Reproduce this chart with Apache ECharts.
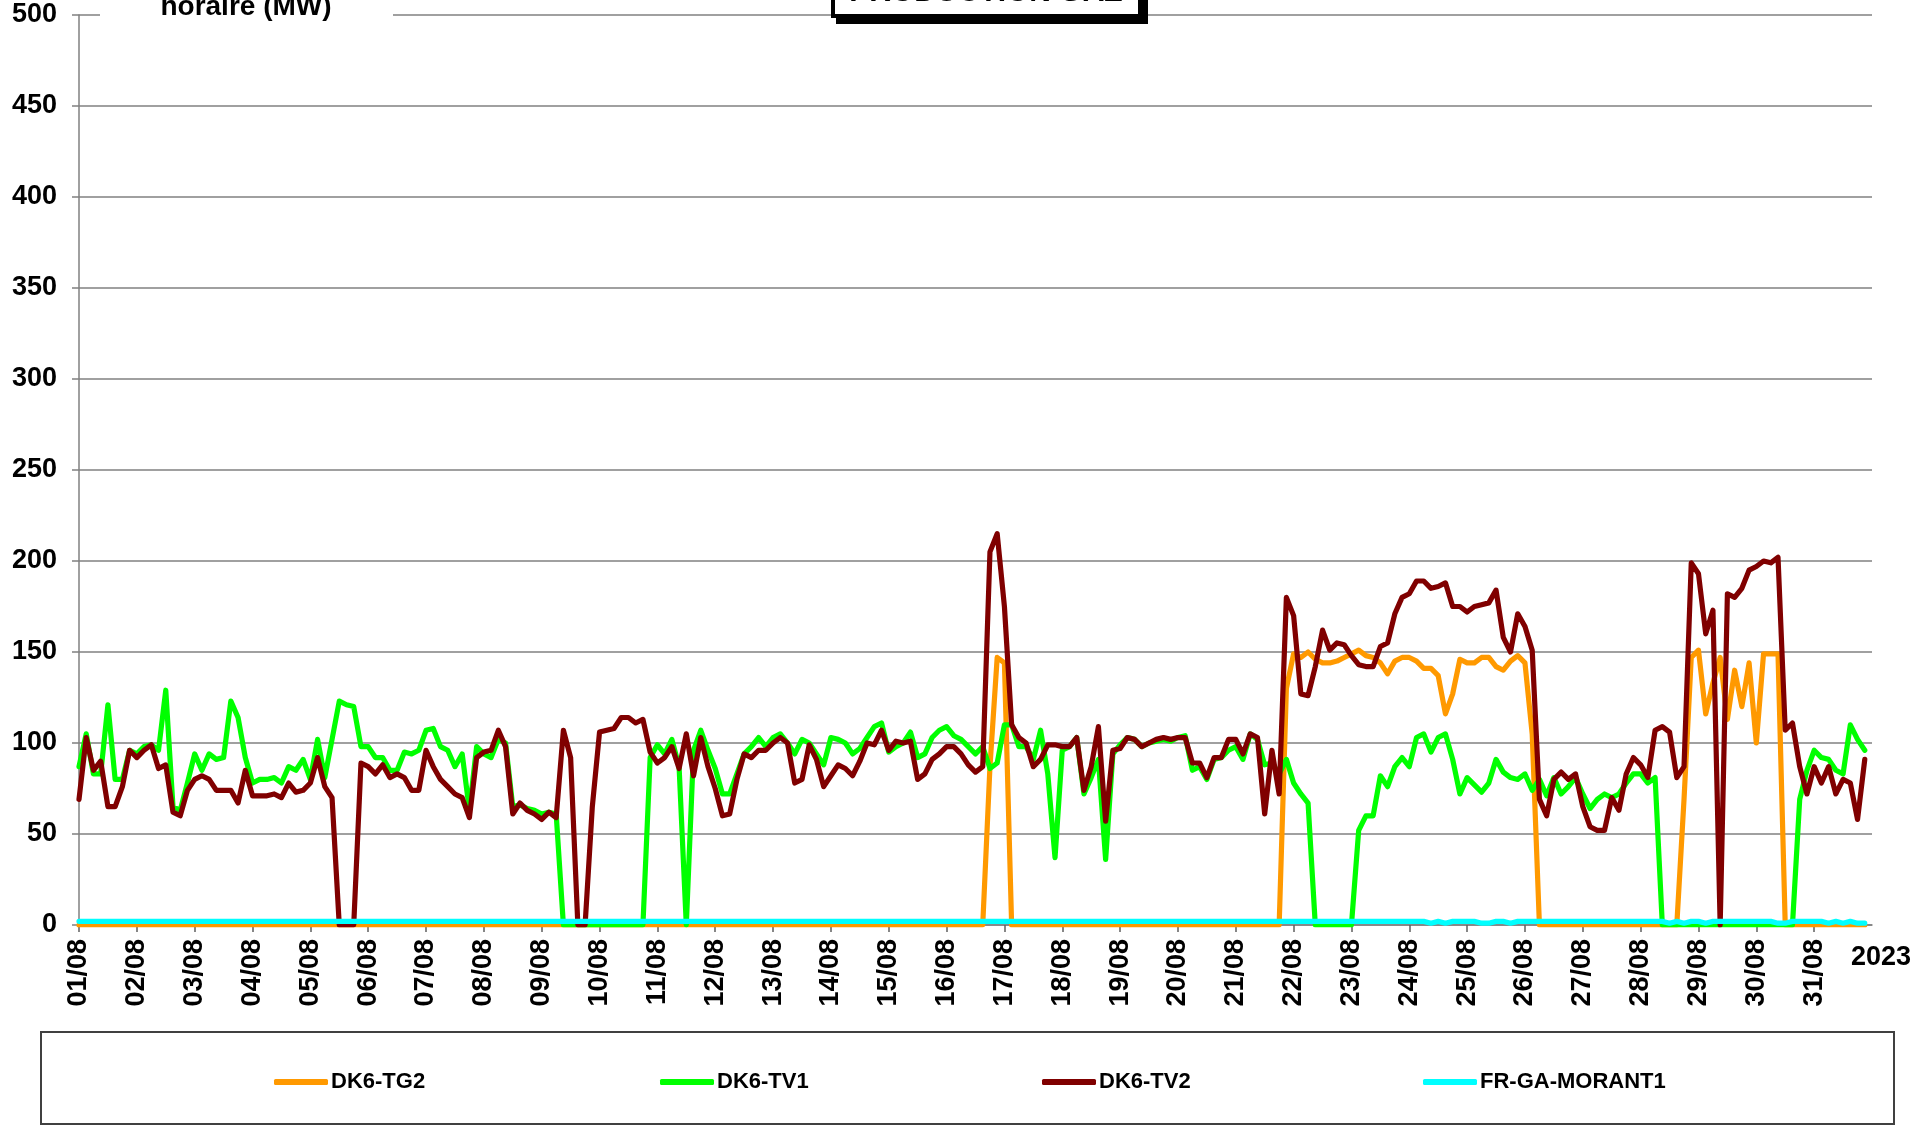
<!DOCTYPE html>
<html>
<head>
<meta charset="utf-8">
<title>Production gaz</title>
<script src="https://cdn.jsdelivr.net/npm/echarts/dist/echarts.min.js"></script>
<style>
  html, body { margin: 0; padding: 0; background: #fff; }
  #chart { width: 1931px; height: 1126px; }
</style>
</head>
<body>
<div id="chart"></div>
<script>
// jours du mois (une graduation par jour)
const dayLabels = ['01/08', '02/08', '03/08', '04/08', '05/08', '06/08', '07/08', '08/08',
  '09/08', '10/08', '11/08', '12/08', '13/08', '14/08', '15/08', '16/08', '17/08', '18/08',
  '19/08', '20/08', '21/08', '22/08', '23/08', '24/08', '25/08', '26/08', '27/08', '28/08',
  '29/08', '30/08', '31/08']
const yearLabel = '2023'
const seriesNames = ['DK6-TG2', 'DK6-TV1', 'DK6-TV2', 'FR-GA-MORANT1']
const stepHours = 3 // un point toutes les 3 heures, 8 par ligne = 1 jour

const tg2 = [
  0, 0, 0, 0, 0, 0, 0, 0,
  0, 0, 0, 0, 0, 0, 0, 0,
  0, 0, 0, 0, 0, 0, 0, 0,
  0, 0, 0, 0, 0, 0, 0, 0,
  0, 0, 0, 0, 0, 0, 0, 0,
  0, 0, 0, 0, 0, 0, 0, 0,
  0, 0, 0, 0, 0, 0, 0, 0,
  0, 0, 0, 0, 0, 0, 0, 0,
  0, 0, 0, 0, 0, 0, 0, 0,
  0, 0, 0, 0, 0, 0, 0, 0,
  0, 0, 0, 0, 0, 0, 0, 0,
  0, 0, 0, 0, 0, 0, 0, 0,
  0, 0, 0, 0, 0, 0, 0, 0,
  0, 0, 0, 0, 0, 0, 0, 0,
  0, 0, 0, 0, 0, 0, 0, 0,
  0, 0, 0, 0, 0, 0, 87, 147,
  144, 0, 0, 0, 0, 0, 0, 0,
  0, 0, 0, 0, 0, 0, 0, 0,
  0, 0, 0, 0, 0, 0, 0, 0,
  0, 0, 0, 0, 0, 0, 0, 0,
  0, 0, 0, 0, 0, 0, 0, 130,
  149, 147, 150, 146, 144, 144, 145, 147,
  149, 151, 148, 147, 144, 138, 145, 147,
  147, 145, 141, 141, 137, 116, 127, 146,
  144, 144, 147, 147, 142, 140, 145, 148,
  144, 105, 0, 0, 0, 0, 0, 0,
  0, 0, 0, 0, 0, 0, 0, 0,
  0, 0, 0, 0, 0, 0, 69, 147,
  151, 116, 133, 147, 113, 140, 120, 144,
  100, 149, 149, 149, 0, 0, 0, 0,
  0, 0, 0, 0, 0, 0, 0, 0
]

const tv1 = [
  87, 105, 83, 83, 121, 80, 80, 96,
  94, 98, 99, 96, 129, 65, 63, 78,
  94, 85, 94, 91, 92, 123, 114, 92,
  78, 80, 80, 81, 78, 87, 85, 91,
  80, 102, 81, 102, 123, 121, 120, 98,
  98, 92, 92, 85, 85, 95, 94, 96,
  107, 108, 98, 96, 87, 94, 63, 98,
  94, 92, 102, 100, 65, 66, 64, 63,
  61, 62, 61, 0, 0, 0, 0, 0,
  0, 0, 0, 0, 0, 0, 0, 92,
  99, 94, 102, 87, 0, 96, 107, 96,
  86, 72, 72, 83, 94, 98, 103, 98,
  103, 105, 100, 94, 102, 100, 94, 88,
  103, 102, 100, 94, 97, 103, 109, 111,
  95, 98, 100, 106, 92, 94, 103, 107,
  109, 104, 102, 98, 94, 98, 86, 89,
  110, 110, 98, 98, 91, 107, 83, 37,
  96, 98, 103, 72, 81, 91, 36, 94,
  99, 103, 102, 98, 100, 101, 102, 101,
  103, 104, 85, 87, 80, 91, 92, 96,
  98, 91, 105, 102, 88, 89, 83, 91,
  78, 72, 67, 0, 0, 0, 0, 0,
  0, 52, 60, 60, 82, 76, 87, 92,
  87, 103, 105, 95, 103, 105, 91, 72,
  81, 77, 73, 78, 91, 84, 81, 80,
  83, 74, 80, 71, 81, 72, 76, 81,
  72, 64, 69, 72, 70, 72, 78, 83,
  83, 78, 81, 0, 0, 0, 0, 0,
  0, 0, 0, 0, 0, 0, 0, 0,
  0, 0, 0, 0, 0, 0, 69, 85,
  96, 92, 91, 85, 83, 110, 102, 96
]

const tv2 = [
  69, 103, 85, 90, 65, 65, 76, 96,
  92, 96, 99, 86, 88, 62, 60, 74,
  80, 82, 80, 74, 74, 74, 67, 85,
  71, 71, 71, 72, 70, 78, 73, 74,
  78, 92, 76, 70, 0, 0, 0, 89,
  87, 83, 88, 81, 83, 81, 74, 74,
  96, 87, 80, 76, 72, 70, 59, 92,
  95, 96, 107, 98, 61, 67, 63, 61,
  58, 62, 59, 107, 92, 0, 0, 65,
  106, 107, 108, 114, 114, 111, 113, 95,
  89, 92, 98, 86, 105, 82, 103, 87,
  75, 60, 61, 80, 94, 92, 96, 96,
  100, 103, 100, 78, 80, 99, 91, 76,
  82, 88, 86, 82, 90, 100, 99, 107,
  96, 101, 100, 101, 80, 83, 91, 94,
  98, 98, 94, 88, 84, 87, 205, 215,
  175, 110, 103, 100, 87, 91, 99, 99,
  98, 98, 103, 74, 87, 109, 57, 96,
  97, 103, 102, 98, 100, 102, 103, 102,
  103, 103, 89, 89, 81, 92, 92, 102,
  102, 94, 105, 103, 61, 96, 72, 180,
  170, 127, 126, 142, 162, 151, 155, 154,
  148, 143, 142, 142, 153, 155, 171, 180,
  182, 189, 189, 185, 186, 188, 175, 175,
  172, 175, 176, 177, 184, 158, 150, 171,
  164, 151, 69, 60, 80, 84, 80, 83,
  65, 54, 52, 52, 70, 63, 83, 92,
  88, 81, 107, 109, 106, 81, 87, 199,
  193, 160, 173, 0, 182, 180, 185, 195,
  197, 200, 199, 202, 107, 111, 87, 72,
  87, 78, 87, 72, 80, 78, 58, 91
]

const morant1 = [
  2, 2, 2, 2, 2, 2, 2, 2,
  2, 2, 2, 2, 2, 2, 2, 2,
  2, 2, 2, 2, 2, 2, 2, 2,
  2, 2, 2, 2, 2, 2, 2, 2,
  2, 2, 2, 2, 2, 2, 2, 2,
  2, 2, 2, 2, 2, 2, 2, 2,
  2, 2, 2, 2, 2, 2, 2, 2,
  2, 2, 2, 2, 2, 2, 2, 2,
  2, 2, 2, 2, 2, 2, 2, 2,
  2, 2, 2, 2, 2, 2, 2, 2,
  2, 2, 2, 2, 2, 2, 2, 2,
  2, 2, 2, 2, 2, 2, 2, 2,
  2, 2, 2, 2, 2, 2, 2, 2,
  2, 2, 2, 2, 2, 2, 2, 2,
  2, 2, 2, 2, 2, 2, 2, 2,
  2, 2, 2, 2, 2, 2, 2, 2,
  2, 2, 2, 2, 2, 2, 2, 2,
  2, 2, 2, 2, 2, 2, 2, 2,
  2, 2, 2, 2, 2, 2, 2, 2,
  2, 2, 2, 2, 2, 2, 2, 2,
  2, 2, 2, 2, 2, 2, 2, 2,
  2, 2, 2, 2, 2, 2, 2, 2,
  2, 2, 2, 2, 2, 2, 2, 2,
  2, 2, 2, 1, 2, 1, 2, 2,
  2, 2, 1, 1, 2, 2, 1, 2,
  2, 2, 2, 2, 2, 2, 2, 2,
  2, 2, 2, 2, 2, 2, 2, 2,
  2, 2, 2, 2, 1, 2, 1, 2,
  2, 1, 2, 2, 2, 2, 2, 2,
  2, 2, 2, 1, 1, 2, 2, 2,
  2, 2, 1, 2, 1, 2, 1, 1
]

const colors = ['#FF9900', '#00FF00', '#800000', '#00FFFF']
const legendLefts = [269, 655, 1037, 1418]
const font = '"Liberation Sans", Arial, sans-serif'

const toPoints = vals => vals.map((v, i) => [i * stepHours, v])
const allValues = [tg2, tv1, tv2, morant1]

const chart = echarts.init(document.getElementById('chart'))

const option = {
  animation: false,
  backgroundColor: '#fff',
  textStyle: { fontFamily: font },
  grid: { left: 79, right: 59, top: 15, bottom: 201, containLabel: false, outerBoundsMode: 'none' },
  xAxis: {
    type: 'value',
    min: 0,
    max: dayLabels.length * 24,
    interval: 24,
    axisLine: { show: true, onZero: false, lineStyle: { color: '#808080', width: 1.5 } },
    axisTick: { show: true, length: 7, lineStyle: { color: '#606060', width: 1.5 } },
    splitLine: { show: false },
    axisLabel: {
      rotate: 90,
      margin: 14,
      fontSize: 27,
      fontWeight: 'bold',
      color: '#000',
      fontFamily: font,
      showMaxLabel: false,
      formatter: v => dayLabels[v / 24] || ''
    }
  },
  yAxis: {
    type: 'value',
    min: 0,
    max: 500,
    interval: 50,
    axisLine: { show: true, lineStyle: { color: '#808080', width: 1.5 } },
    axisTick: { show: true, length: 7, lineStyle: { color: '#808080', width: 1.5 } },
    splitLine: { show: true, lineStyle: { color: '#808080', width: 1.5 } },
    axisLabel: {
      margin: 22,
      fontSize: 27,
      fontWeight: 'bold',
      color: '#000',
      fontFamily: font
    }
  },
  legend: seriesNames.map((name, i) => ({
    data: [name],
    left: legendLefts[i],
    top: 1066,
    icon: 'roundRect',
    itemWidth: 54,
    itemHeight: 6,
    itemGap: 0,
    selectedMode: false,
    textStyle: { fontSize: 22, fontWeight: 'bold', color: '#000', fontFamily: font, padding: [0, 0, 0, -2] }
  })),
  series: seriesNames.map((name, i) => ({
    name: name,
    type: 'line',
    data: toPoints(allValues[i]),
    showSymbol: false,
    symbol: 'none',
    color: colors[i],
    lineStyle: { color: colors[i], width: 5.2, cap: 'round', join: 'round' },
    emphasis: { disabled: true }
  })),
  graphic: [
    // cadre de la légende
    { id: 'legendFrame', type: 'rect', shape: { x: 41, y: 1032, width: 1853, height: 92 },
      style: { fill: 'none', stroke: '#404040', lineWidth: 2 }, z: 0 },
    // titre de l'axe vertical (coupé en haut)
    { id: 'yTitleBg', type: 'rect', shape: { x: 100, y: 0, width: 293, height: 24 },
      style: { fill: '#fff' }, z: 10 },
    { id: 'yTitle', type: 'text', z: 11,
      style: { text: 'horaire (MW)', x: 246, y: 7, align: 'center', verticalAlign: 'middle',
        font: 'bold 28px ' + font, fill: '#000' } },
    // titre encadré (coupé en haut)
    { id: 'titleShadow', type: 'rect', shape: { x: 836, y: -44, width: 312, height: 68 },
      style: { fill: '#000' }, z: 10 },
    { id: 'titleBox', type: 'rect', shape: { x: 833, y: -50, width: 307, height: 66 },
      style: { fill: '#fff', stroke: '#000', lineWidth: 4 }, z: 11 },
    { id: 'titleText', type: 'text', z: 12,
      style: { text: 'PRODUCTION GAZ', x: 986, y: -7, align: 'center', verticalAlign: 'middle',
        font: 'bold 30px ' + font, fill: '#000' } }
  ]
}

chart.setOption(option)

// libellé de l'année, horizontal, sous la dernière graduation
const lastTick = chart.convertToPixel({ xAxisIndex: 0 }, dayLabels.length * 24)
const zeroY = chart.convertToPixel({ yAxisIndex: 0 }, 0)
chart.setOption({
  graphic: [{
    id: 'yearLabel', type: 'text', z: 12,
    style: { text: yearLabel, x: lastTick + 9, y: zeroY + 19, align: 'center', verticalAlign: 'top',
      font: 'bold 27px ' + font, fill: '#000' }
  }]
})
</script>
</body>
</html>
